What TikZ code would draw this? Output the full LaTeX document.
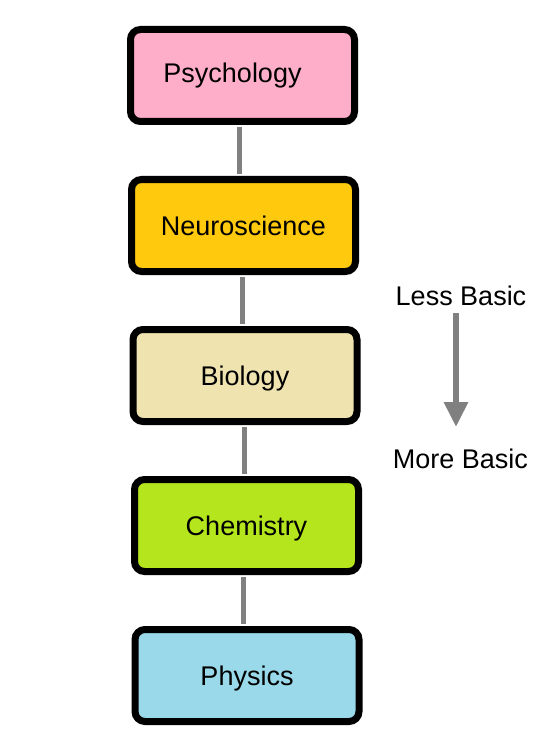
\documentclass[tikz,border=0pt]{standalone}
\usepackage{fontspec}
\setmainfont{Liberation Sans}
\usetikzlibrary{arrows.meta}
\definecolor{cpink}{HTML}{FFAEC9}
\definecolor{corange}{HTML}{FFC90E}
\definecolor{cbeige}{HTML}{EFE4B0}
\definecolor{cgreen}{HTML}{B5E61D}
\definecolor{cblue}{HTML}{99D9EA}
\definecolor{cgray}{HTML}{808080}
\tikzset{
  sbox/.style={draw=black, line width=7pt, rounded corners=10pt, minimum width=224pt, minimum height=92pt, inner sep=0pt, text height=19.3pt, text depth=0pt, font=\fontsize{27}{32}\selectfont},
  link/.style={draw=cgray, line width=5pt, shorten <=2pt, shorten >=2pt},
  lbl/.style={inner sep=0pt, text height=19.3pt, text depth=0pt, font=\fontsize{27}{32}\selectfont},
  bigarrow/.style={draw=cgray, line width=6pt, -{Triangle[width=23pt,length=25pt]}}
}
\begin{document}
\begin{tikzpicture}[x=1pt, y=-1pt]
\useasboundingbox (0,0) rectangle (550,746);
\fill[white] (0,0) rectangle (550,746);
\node[sbox, fill=cpink] (psy) at (242.5,75.5) {\raisebox{2.5pt}{Psychology}\hspace*{20pt}};
\node[sbox, fill=corange] (neu) at (243.5,225.5) {Neuroscience};
\node[sbox, fill=cbeige] (bio) at (245,375.5) {Biology};
\node[sbox, fill=cgreen] (che) at (246.5,525.5) {Chemistry};
\node[sbox, fill=cblue] (phy) at (247,675.5) {Physics};
\draw[link] ([xshift=-3.5pt]psy.south) -- ([xshift=-3.5pt]psy.south |- neu.north);
\draw[link] ([xshift=-1.5pt]neu.south) -- ([xshift=-1.5pt]neu.south |- bio.north);
\draw[link] ([xshift=-1pt]bio.south) -- ([xshift=-1pt]bio.south |- che.north);
\draw[link] ([xshift=-3.5pt]che.south) -- ([xshift=-3.5pt]che.south |- phy.north);
\node[lbl] (less) at (461,295.5) {Less Basic};
\node[lbl] (more) at (460.5,459) {More Basic};
\coordinate (atop) at (456,313);
\coordinate (abot) at (456,427);
\draw[bigarrow] (atop) -- (abot);
\end{tikzpicture}
\end{document}
